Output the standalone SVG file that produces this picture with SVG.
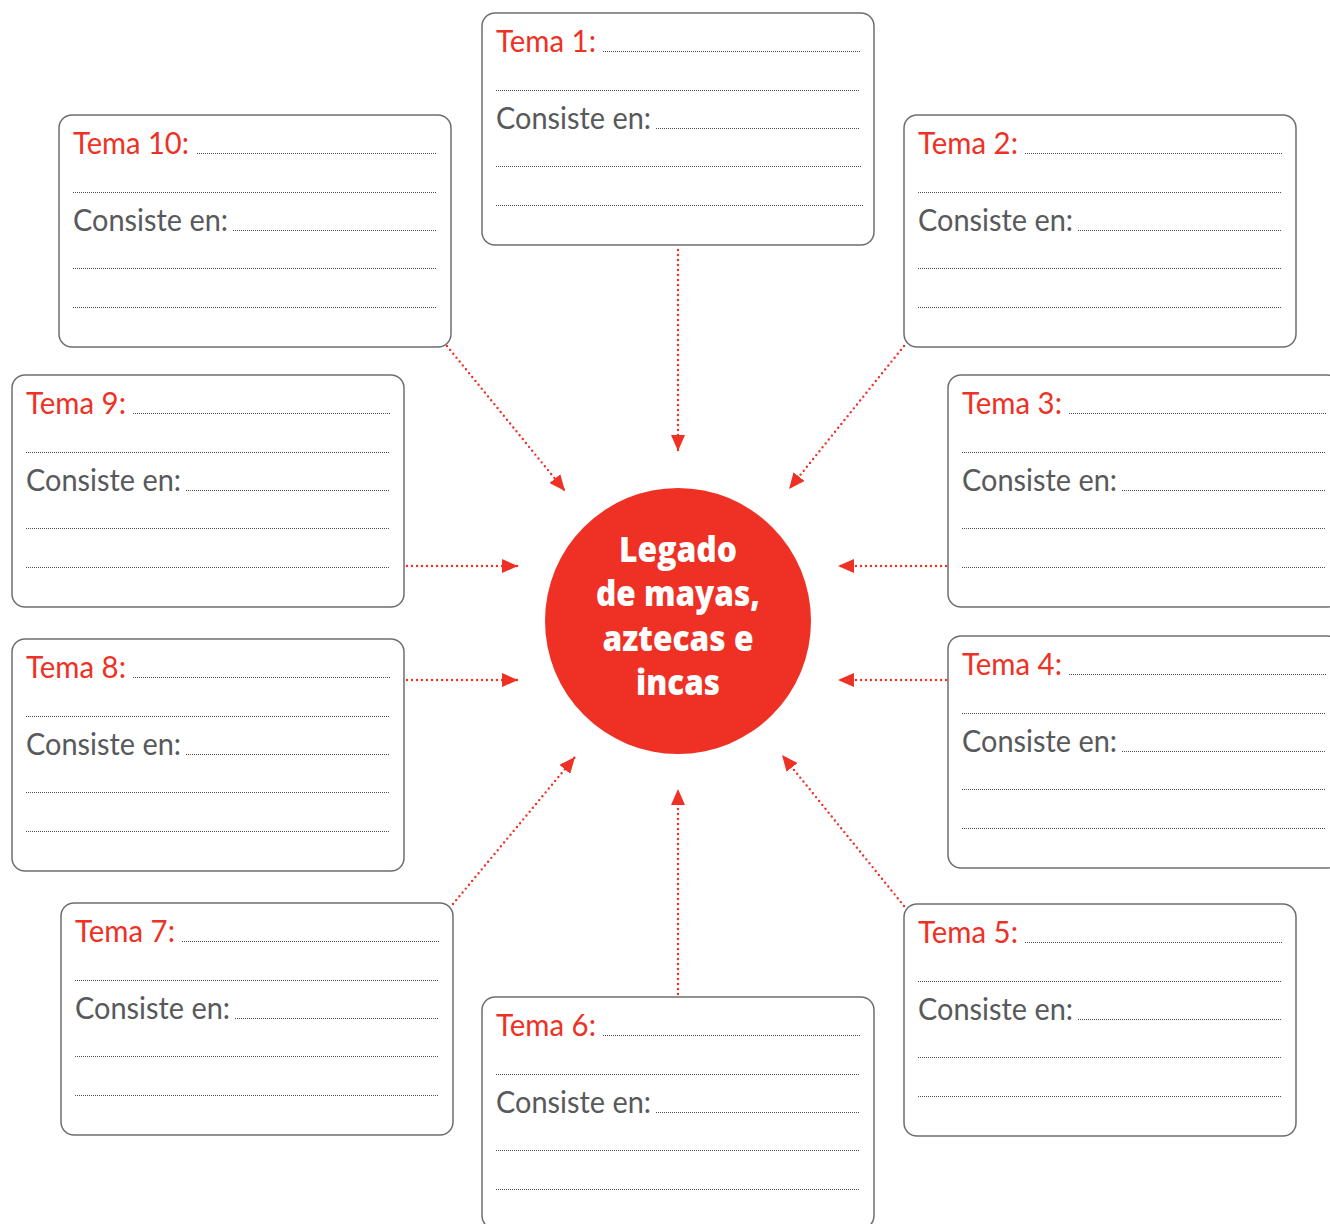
<svg xmlns="http://www.w3.org/2000/svg" width="1330" height="1224" viewBox="0 0 1330 1224">
<style>
.box{fill:#fff;stroke:#6d6e71;stroke-width:1.5}
.tema{font-family:Lato,"Open Sans",sans-serif;font-size:30px;fill:#ee3124}
.cons{font-family:Lato,"Open Sans",sans-serif;font-size:30px;fill:#58595b}
.dl{stroke:#4d4d4f;stroke-width:1;stroke-dasharray:1 1;fill:none}
.conn{stroke:#ee3124;stroke-width:2.4;stroke-dasharray:0 5;stroke-linecap:round;fill:none;marker-end:url(#ah)}
.ctext{font-family:"Open Sans",Lato,sans-serif;font-weight:800;font-size:35px;fill:#fff;text-anchor:middle}
</style>
<defs>
<marker id="ah" viewBox="0 0 16 14" refX="16" refY="7" markerWidth="16" markerHeight="14" markerUnits="userSpaceOnUse" orient="auto">
<path d="M0,0 L16,7 L0,14 z" fill="#ee3124"/>
</marker>
</defs>
<rect width="1330" height="1224" fill="#fff"/>
<g id="connectors">
<line class="conn" x1="678" y1="250" x2="678" y2="451"/>
<line class="conn" x1="904" y1="346" x2="789" y2="489"/>
<line class="conn" x1="946" y1="566" x2="838" y2="566"/>
<line class="conn" x1="946" y1="680" x2="838" y2="680"/>
<line class="conn" x1="904" y1="906" x2="782" y2="755"/>
<line class="conn" x1="678" y1="994" x2="678" y2="789"/>
<line class="conn" x1="453" y1="904" x2="575" y2="757"/>
<line class="conn" x1="407" y1="680" x2="518" y2="680"/>
<line class="conn" x1="407" y1="566" x2="518" y2="566"/>
<line class="conn" x1="447" y1="346" x2="565" y2="491"/>
</g>
<g id="center">
<circle cx="678" cy="621" r="133" fill="#ee3124"/>
<text class="ctext" x="678" y="562" textLength="118" lengthAdjust="spacingAndGlyphs">Legado</text>
<text class="ctext" x="678" y="606" textLength="164" lengthAdjust="spacingAndGlyphs">de mayas,</text>
<text class="ctext" x="678" y="651" textLength="151" lengthAdjust="spacingAndGlyphs">aztecas e</text>
<text class="ctext" x="678" y="695" textLength="84" lengthAdjust="spacingAndGlyphs">incas</text>
</g>
<g id="tema1" transform="translate(482,13)">
<rect class="box" x="0" y="0" width="392" height="232" rx="13"/>
<text class="tema" x="14" y="39" textLength="100" lengthAdjust="spacingAndGlyphs">Tema 1:</text>
<path class="dl" d="M121,38.5H378M14,77.5H378M174,115.5H378M14,153.5H380M14,192.5H382"/>
<text class="cons" x="14" y="116" textLength="155" lengthAdjust="spacingAndGlyphs">Consiste en:</text>
</g>
<g id="tema2" transform="translate(904,115)">
<rect class="box" x="0" y="0" width="392" height="232" rx="13"/>
<text class="tema" x="14" y="39" textLength="100" lengthAdjust="spacingAndGlyphs">Tema 2:</text>
<path class="dl" d="M121,38.5H378M14,77.5H378M174,115.5H378M14,153.5H378M14,192.5H378"/>
<text class="cons" x="14" y="116" textLength="155" lengthAdjust="spacingAndGlyphs">Consiste en:</text>
</g>
<g id="tema3" transform="translate(948,375)">
<rect class="box" x="0" y="0" width="392" height="232" rx="13"/>
<text class="tema" x="14" y="39" textLength="100" lengthAdjust="spacingAndGlyphs">Tema 3:</text>
<path class="dl" d="M121,38.5H378M14,77.5H378M174,115.5H378M14,153.5H378M14,192.5H378"/>
<text class="cons" x="14" y="116" textLength="155" lengthAdjust="spacingAndGlyphs">Consiste en:</text>
</g>
<g id="tema4" transform="translate(948,636)">
<rect class="box" x="0" y="0" width="392" height="232" rx="13"/>
<text class="tema" x="14" y="39" textLength="100" lengthAdjust="spacingAndGlyphs">Tema 4:</text>
<path class="dl" d="M121,38.5H378M14,77.5H378M174,115.5H378M14,153.5H378M14,192.5H378"/>
<text class="cons" x="14" y="116" textLength="155" lengthAdjust="spacingAndGlyphs">Consiste en:</text>
</g>
<g id="tema5" transform="translate(904,904)">
<rect class="box" x="0" y="0" width="392" height="232" rx="13"/>
<text class="tema" x="14" y="39" textLength="100" lengthAdjust="spacingAndGlyphs">Tema 5:</text>
<path class="dl" d="M121,38.5H378M14,77.5H378M174,115.5H378M14,153.5H378M14,192.5H378"/>
<text class="cons" x="14" y="116" textLength="155" lengthAdjust="spacingAndGlyphs">Consiste en:</text>
</g>
<g id="tema6" transform="translate(482,997)">
<rect class="box" x="0" y="0" width="392" height="232" rx="13"/>
<text class="tema" x="14" y="39" textLength="100" lengthAdjust="spacingAndGlyphs">Tema 6:</text>
<path class="dl" d="M121,38.5H378M14,77.5H378M174,115.5H378M14,153.5H378M14,192.5H378"/>
<text class="cons" x="14" y="116" textLength="155" lengthAdjust="spacingAndGlyphs">Consiste en:</text>
</g>
<g id="tema7" transform="translate(61,903)">
<rect class="box" x="0" y="0" width="392" height="232" rx="13"/>
<text class="tema" x="14" y="39" textLength="100" lengthAdjust="spacingAndGlyphs">Tema 7:</text>
<path class="dl" d="M121,38.5H378M14,77.5H378M174,115.5H378M14,153.5H378M14,192.5H378"/>
<text class="cons" x="14" y="116" textLength="155" lengthAdjust="spacingAndGlyphs">Consiste en:</text>
</g>
<g id="tema8" transform="translate(12,639)">
<rect class="box" x="0" y="0" width="392" height="232" rx="13"/>
<text class="tema" x="14" y="39" textLength="100" lengthAdjust="spacingAndGlyphs">Tema 8:</text>
<path class="dl" d="M121,38.5H378M14,77.5H378M174,115.5H378M14,153.5H378M14,192.5H378"/>
<text class="cons" x="14" y="116" textLength="155" lengthAdjust="spacingAndGlyphs">Consiste en:</text>
</g>
<g id="tema9" transform="translate(12,375)">
<rect class="box" x="0" y="0" width="392" height="232" rx="13"/>
<text class="tema" x="14" y="39" textLength="100" lengthAdjust="spacingAndGlyphs">Tema 9:</text>
<path class="dl" d="M121,38.5H378M14,77.5H378M174,115.5H378M14,153.5H378M14,192.5H378"/>
<text class="cons" x="14" y="116" textLength="155" lengthAdjust="spacingAndGlyphs">Consiste en:</text>
</g>
<g id="tema10" transform="translate(59,115)">
<rect class="box" x="0" y="0" width="392" height="232" rx="13"/>
<text class="tema" x="14" y="39" textLength="116" lengthAdjust="spacingAndGlyphs">Tema 10:</text>
<path class="dl" d="M138,38.5H378M14,77.5H378M174,115.5H378M14,153.5H378M14,192.5H378"/>
<text class="cons" x="14" y="116" textLength="155" lengthAdjust="spacingAndGlyphs">Consiste en:</text>
</g>
</svg>
